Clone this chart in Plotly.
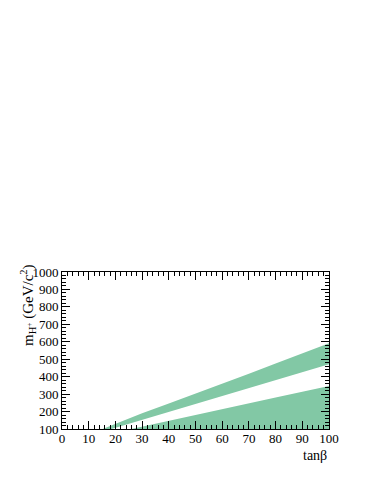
import plotly.graph_objects as go

# Upper band: top edge and bottom edge (GeV/c^2) vs tan(beta)
tanb_upper_top = [15.2, 20, 30, 40, 50, 60, 70, 80, 90, 100]
upper_top = [100, 130, 190, 246, 302, 359, 417, 475, 533, 591]
tanb_upper_bottom = [18.5, 20, 30, 40, 50, 60, 70, 80, 90, 100]
upper_bottom = [100, 107, 152, 198, 244, 290, 335, 380, 425, 471]

# Lower band (from the axis floor up to a curve)
tanb_lower = [26, 30, 40, 50, 60, 70, 80, 90, 100]
lower_top = [100, 113, 147, 180, 214, 247, 280, 314, 347]

x_ticks = [0, 10, 20, 30, 40, 50, 60, 70, 80, 90, 100]
y_ticks = [100, 200, 300, 400, 500, 600, 700, 800, 900, 1000]

fill_col = "rgb(130,200,165)"
font_family = "Liberation Serif"

fig = go.Figure()
fig.add_trace(go.Scatter(
    x=tanb_upper_top + tanb_upper_bottom[::-1],
    y=upper_top + upper_bottom[::-1],
    fill="toself", fillcolor=fill_col, mode="lines",
    line=dict(width=0, color=fill_col), hoverinfo="skip", showlegend=False))
fig.add_trace(go.Scatter(
    x=tanb_lower, y=lower_top,
    fill="tozeroy", fillcolor=fill_col, mode="lines",
    line=dict(width=0, color=fill_col), hoverinfo="skip", showlegend=False))

axis_common = dict(
    showgrid=False, zeroline=False, showline=True, linecolor="black",
    linewidth=1, mirror="ticks", ticks="inside", tickcolor="black",
    ticklen=8, tickwidth=1,
    tickfont=dict(family=font_family, size=13, color="black"),
)

fig.update_xaxes(range=[0, 100], tickvals=x_ticks, ticklabelstandoff=-3,
                 minor=dict(dtick=2, ticks="inside", ticklen=4, tickcolor="black"),
                 **axis_common)
fig.update_yaxes(range=[100, 1000], tickvals=y_ticks,
                 minor=dict(dtick=20, ticks="inside", ticklen=4, tickcolor="black"),
                 **axis_common)

fig.add_annotation(text="tanβ", xref="paper", yref="paper", x=1.0, y=0,
                   xanchor="right", yanchor="top", yshift=-17, showarrow=False,
                   font=dict(family=font_family, size=14, color="black"))
fig.add_annotation(text="m<sub>H<sup>+</sup></sub> (GeV/c<sup>2</sup>)",
                   xref="paper", yref="paper", x=0, y=1.0, textangle=-90,
                   xanchor="right", yanchor="top", xshift=-22, yshift=10,
                   showarrow=False,
                   font=dict(family=font_family, size=15, color="black"))

fig.update_layout(
    width=374, height=484,
    margin=dict(l=54, r=53, t=264, b=63),
    paper_bgcolor="white", plot_bgcolor="white",
    showlegend=False,
)

fig.write_html("out.html")
